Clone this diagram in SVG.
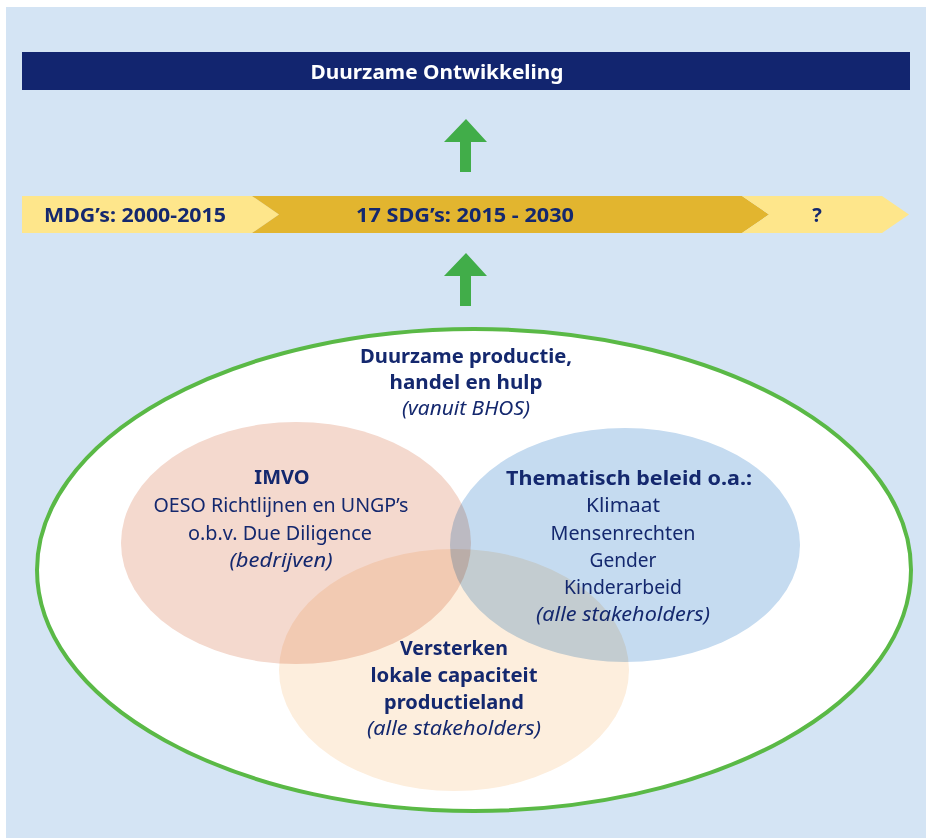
<svg xmlns="http://www.w3.org/2000/svg" width="926" height="838" viewBox="0 0 926 838">
<style>
text{font-family:"Noto Sans","Open Sans","DejaVu Sans",sans-serif;font-size:20px;fill:#14286e;text-anchor:middle}
.b{font-weight:bold}
.i{font-style:italic}
.w{fill:#ffffff}
.venn{mix-blend-mode:multiply}
</style>
<rect x="0" y="0" width="926" height="838" fill="#ffffff"/>
<rect x="6" y="7" width="920" height="831" fill="#d4e4f4"/>

<g id="top-bar">
<rect x="22" y="52" width="888" height="38" fill="#12256f"/>
<text class="b w" x="437" y="79" textLength="253" lengthAdjust="spacingAndGlyphs">Duurzame Ontwikkeling</text>
</g>

<g id="timeline">
<polygon points="22,196 252,196 279,214.5 252,233 22,233" fill="#fee68b"/>
<polygon points="252,196 742,196 769,214.5 742,233 252,233 279,214.5" fill="#e2b52f"/>
<polygon points="742,196 882,196 909,214.5 882,233 742,233 769,214.5" fill="#fee68b"/>
<text class="b" x="135" y="222" textLength="182" lengthAdjust="spacingAndGlyphs">MDG’s: 2000-2015</text>
<text class="b" x="465" y="222" textLength="218" lengthAdjust="spacingAndGlyphs">17 SDG’s: 2015 - 2030</text>
<text class="b" x="817" y="222">?</text>
</g>

<g id="connectors" fill="#41ad49">
<polygon points="466,119 487,142 471,142 471,172 460,172 460,142 444,142"/>
<polygon points="466,253 487,276 471,276 471,306 460,306 460,276 444,276"/>
</g>

<g id="outer-ellipse">
<ellipse cx="474" cy="570" rx="437" ry="241" fill="#ffffff" stroke="#5ab946" stroke-width="4"/>
<text class="b" x="466" y="363" textLength="212" lengthAdjust="spacingAndGlyphs">Duurzame productie,</text>
<text class="b" x="466" y="389" textLength="153" lengthAdjust="spacingAndGlyphs">handel en hulp</text>
<text class="i" x="466" y="415" textLength="128" lengthAdjust="spacingAndGlyphs">(vanuit BHOS)</text>
</g>

<g id="venn-shapes">
<ellipse id="imvo-shape" class="venn" cx="296" cy="543" rx="175" ry="121" fill="#f4d9ce"/>
<ellipse id="thematisch-shape" class="venn" cx="625" cy="545" rx="175" ry="117" fill="#c5dbf0"/>
<ellipse id="versterken-shape" class="venn" cx="454" cy="670" rx="175" ry="121" fill="#fdeedd"/>
</g>

<g id="imvo">
<text class="b" x="282" y="484">IMVO</text>
<text x="281" y="512" textLength="255" lengthAdjust="spacingAndGlyphs">OESO Richtlijnen en UNGP’s</text>
<text x="280" y="540" textLength="184" lengthAdjust="spacingAndGlyphs">o.b.v. Due Diligence</text>
<text class="i" x="281" y="567" textLength="103" lengthAdjust="spacingAndGlyphs">(bedrijven)</text>
</g>

<g id="thematisch">
<text class="b" x="629" y="485" textLength="246" lengthAdjust="spacingAndGlyphs">Thematisch beleid o.a.:</text>
<text x="623" y="512" textLength="74" lengthAdjust="spacingAndGlyphs">Klimaat</text>
<text x="623" y="540" textLength="145" lengthAdjust="spacingAndGlyphs">Mensenrechten</text>
<text x="623" y="567" textLength="67" lengthAdjust="spacingAndGlyphs">Gender</text>
<text x="623" y="594" textLength="118" lengthAdjust="spacingAndGlyphs">Kinderarbeid</text>
<text class="i" x="623" y="621" textLength="174" lengthAdjust="spacingAndGlyphs">(alle stakeholders)</text>
</g>

<g id="versterken">
<text class="b" x="454" y="655" textLength="108" lengthAdjust="spacingAndGlyphs">Versterken</text>
<text class="b" x="454" y="682" textLength="167" lengthAdjust="spacingAndGlyphs">lokale capaciteit</text>
<text class="b" x="454" y="709" textLength="140" lengthAdjust="spacingAndGlyphs">productieland</text>
<text class="i" x="454" y="735" textLength="174" lengthAdjust="spacingAndGlyphs">(alle stakeholders)</text>
</g>
</svg>
